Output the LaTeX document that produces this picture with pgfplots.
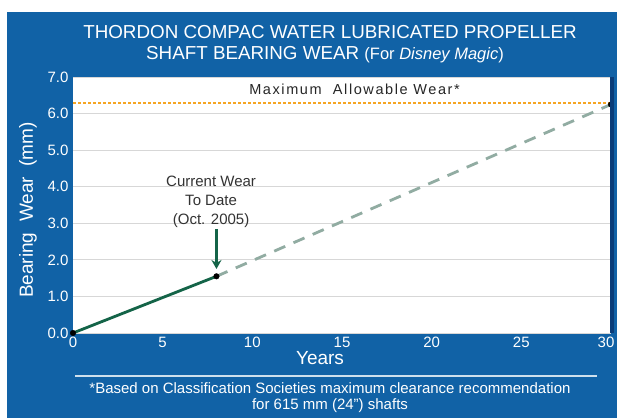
\documentclass[border=0pt]{standalone}
\usepackage{pgfplots}
\pgfplotsset{compat=1.18}
\usepackage{fontspec}
\setmainfont{Liberation Sans}
\usetikzlibrary{arrows.meta}
\definecolor{bgblue}{RGB}{17,98,166}
\definecolor{darkblue}{RGB}{10,60,120}
\definecolor{lgreen}{RGB}{20,100,72}
\definecolor{dgreen}{RGB}{145,172,162}
\definecolor{orng}{RGB}{245,165,35}
\definecolor{gridg}{RGB}{215,215,215}
\begin{document}
\begin{tikzpicture}
\useasboundingbox (0,0) rectangle (617bp,418bp);
\fill[white] (0,0) rectangle (617bp,418bp);
\fill[bgblue] (7bp,0) rectangle (617bp,406bp);
\node[white,font=\fontsize{18.8bp}{22bp}\selectfont] at (330bp,386bp) {THORDON COMPAC WATER LUBRICATED PROPELLER};
\node[white,font=\fontsize{18.8bp}{22bp}\selectfont] at (325bp,363bp) {SHAFT BEARING WEAR \fontsize{16.5bp}{20bp}\selectfont(For \textit{Disney Magic})};
\begin{axis}[
  at={(73bp,85bp)}, anchor=south west,
  scale only axis, width=538bp, height=256bp,
  xmin=0, xmax=30, ymin=0, ymax=7,
  axis background/.style={fill=white},
  axis line style={draw=none},
  xtick={0,5,...,25}, ytick={0,1,...,7},
  extra x ticks={30},
  extra x tick style={xticklabel style={xshift=-5bp}, grid=none},
  major tick length=0pt,
  ymajorgrids, grid style={gridg, line width=0.8bp},
  yticklabel style={/pgf/number format/fixed, /pgf/number format/fixed zerofill, /pgf/number format/precision=1, xshift=-1bp},
  /pgf/number format/assume math mode=true,
  tick label style={white, font=\fontsize{15bp}{17bp}\selectfont},
  xticklabel style={yshift=-1bp},
  clip=false,
]
\addplot[orng, dash pattern=on 3bp off 2bp, line width=2bp] coordinates {(0,6.3) (30,6.3)};
\addplot[dgreen, dash pattern=on 12bp off 9bp, line width=2.8bp] coordinates {(8,1.55) (30,6.25)};
\addplot[lgreen, line width=2.8bp] coordinates {(0,0) (8,1.55)};
\addplot[only marks, mark=*, mark size=2.8bp, black] coordinates {(0,0) (8,1.55) (30,6.25)};
\draw[lgreen, line width=2.4bp, -{Stealth[length=9bp,width=10bp]}] (axis cs:8,2.85) -- (axis cs:8,1.75);
\node[align=center, font=\fontsize{15bp}{19bp}\selectfont, text=black!80] at (axis cs:7.7,3.6) {Current Wear\\To Date\\(Oct. 2005)};
\node[font=\fontsize{14.5bp}{16bp}\selectfont\addfontfeature{LetterSpace=11}, text=black!85] at (axis cs:15.7,6.65) {Maximum~ Allowable Wear*};
\end{axis}
\fill[darkblue] (610bp,85bp) rectangle (614bp,341bp);
\node[white, rotate=90, font=\fontsize{19bp}{22bp}\selectfont] at (28bp,208bp) {Bearing~ Wear~ (mm)};
\node[white, font=\fontsize{19bp}{22bp}\selectfont] at (320bp,60bp) {Years};
\draw[white!80!bgblue, line width=1.2bp] (75bp,42bp) -- (597bp,42bp);
\node[white, align=center, font=\fontsize{15bp}{16bp}\selectfont] at (330bp,20bp) {*Based on Classification Societies maximum clearance recommendation\\for 615 mm (24") shafts};
\end{tikzpicture}
\end{document}
